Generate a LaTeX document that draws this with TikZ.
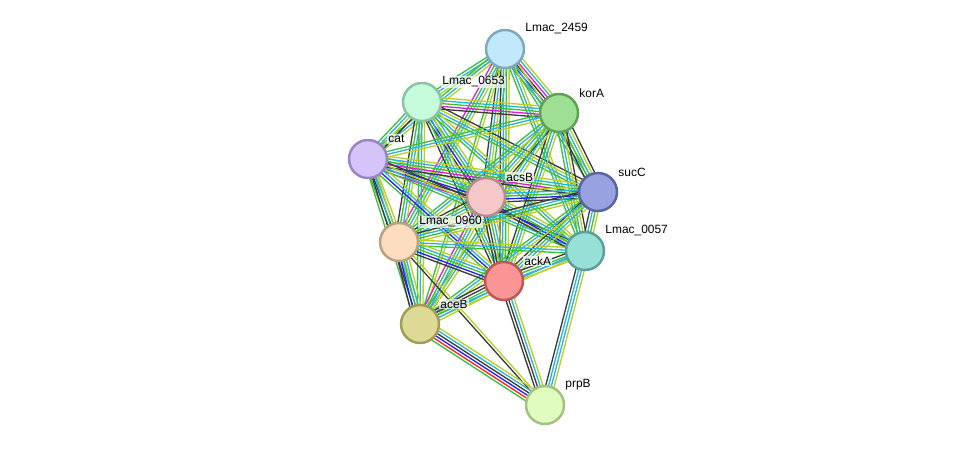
\documentclass[tikz,border=0pt]{standalone}
\usepackage{fontspec}
\setmainfont{Liberation Sans}
\usetikzlibrary{calc}

\pgfdeclarelayer{fond}
\pgfsetlayers{fond,main}

% Couleurs des liens
\definecolor{lvert}{HTML}{3DBE3D}
\definecolor{lrouge}{HTML}{FF2020}
\definecolor{lbleu}{HTML}{2020FF}
\definecolor{lnoir}{HTML}{3A3A3A}
\definecolor{lmagenta}{HTML}{D820D8}
\definecolor{lcyan}{HTML}{2AB4D6}
\definecolor{ljaune}{HTML}{B8CF24}

% Couleurs des noeuds (fond / bord)
\definecolor{c2459}{HTML}{C2E8FB}\definecolor{b2459}{HTML}{7FA7C1}
\definecolor{c0653}{HTML}{C6FBDB}\definecolor{b0653}{HTML}{8BC2A0}
\definecolor{ckorA}{HTML}{9FDE95}\definecolor{bkorA}{HTML}{5FA155}
\definecolor{ccat}{HTML}{D5C4FA}\definecolor{bcat}{HTML}{9A85C3}
\definecolor{cacsB}{HTML}{F6C7C8}\definecolor{bacsB}{HTML}{B98A8B}
\definecolor{csucC}{HTML}{98A2E0}\definecolor{bsucC}{HTML}{5A64A3}
\definecolor{c0960}{HTML}{FDDDBF}\definecolor{b0960}{HTML}{BCA082}
\definecolor{c0057}{HTML}{97E0D8}\definecolor{b0057}{HTML}{5A9F98}
\definecolor{cackA}{HTML}{FB9494}\definecolor{backA}{HTML}{BE5858}
\definecolor{caceB}{HTML}{DDDA96}\definecolor{baceB}{HTML}{A09D58}
\definecolor{cprpB}{HTML}{E0FCBF}\definecolor{bprpB}{HTML}{A4C182}

\tikzset{
  prot/.style 2 args={circle, draw=#2, fill=#1, line width=1.4pt,
    minimum size=0.76cm, inner sep=0pt},
  etiq/.style={anchor=west, font=\fontsize{6.8}{8}\selectfont,
    inner sep=0.6pt, fill=white, fill opacity=0.7, text opacity=1},
  trait/.style={line width=0.75pt},
}

% un lien = faisceau de traits paralleles
\newcommand{\lien}[3]{%
  \foreach \c [count=\i] in {#3} {\global\let\nbtraits\i}%
  \foreach \c [count=\i] in {#3} {%
    \pgfmathsetmacro\dec{(\i-(\nbtraits+1)/2)*1.6}%
    \draw[trait, color=\c] ($(#1.center)!\dec pt!90:(#2.center)$) -- ($(#2.center)!\dec pt!-90:(#1.center)$);
  }%
}

\begin{document}
\begin{tikzpicture}[x=0.02cm, y=-0.02cm]
    \useasboundingbox (0,0) rectangle (976,451);

    % Noeuds
    \node[prot={c2459}{b2459}] (n2459) at (505,49) {};
    \node[prot={c0653}{b0653}] (n0653) at (422,102) {};
    \node[prot={ckorA}{bkorA}] (korA) at (559,113) {};
    \node[prot={ccat}{bcat}] (cat) at (368,159) {};
    \node[prot={cacsB}{bacsB}] (acsB) at (486,197) {};
    \node[prot={csucC}{bsucC}] (sucC) at (598,192) {};
    \node[prot={c0960}{b0960}] (n0960) at (399,242) {};
    \node[prot={c0057}{b0057}] (n0057) at (585,251) {};
    \node[prot={cackA}{backA}] (ackA) at (504,281) {};
    \node[prot={caceB}{baceB}] (aceB) at (420,324) {};
    \node[prot={cprpB}{bprpB}] (prpB) at (545,405) {};

    % Etiquettes
    \node[etiq] (t2459) at ([shift={(19,-20)}]n2459.center) {Lmac\_2459};
    \node[etiq] (t0653) at ([shift={(19,-20)}]n0653.center) {Lmac\_0653};
    \node[etiq] (tkorA) at ([shift={(19,-20)}]korA.center) {korA};
    \node[etiq] (tcat) at ([shift={(19,-20)}]cat.center) {cat};
    \node[etiq] (tacsB) at ([shift={(19,-20)}]acsB.center) {acsB};
    \node[etiq] (tsucC) at ([shift={(19,-20)}]sucC.center) {sucC};
    \node[etiq] (t0960) at ([shift={(19,-20)}]n0960.center) {Lmac\_0960};
    \node[etiq] (t0057) at ([shift={(19,-20)}]n0057.center) {Lmac\_0057};
    \node[etiq] (tackA) at ([shift={(19,-20)}]ackA.center) {ackA};
    \node[etiq] (taceB) at ([shift={(19,-20)}]aceB.center) {aceB};
    \node[etiq] (tprpB) at ([shift={(19,-20)}]prpB.center) {prpB};

    % Liens
    \begin{pgfonlayer}{fond}
    \lien{n2459}{n0653}{lvert,lcyan,ljaune}
    \lien{n2459}{korA}{lvert,lbleu,lnoir,lmagenta,lcyan,ljaune}
    \lien{n2459}{cat}{lvert,lcyan,ljaune}
    \lien{n2459}{acsB}{lnoir,lcyan,ljaune,lvert}
    \lien{n2459}{sucC}{lvert,lcyan,ljaune}
    \lien{n2459}{n0960}{lmagenta,lvert,lcyan,ljaune}
    \lien{n2459}{n0057}{lvert,lcyan,ljaune}
    \lien{n2459}{ackA}{lnoir,lcyan,lvert,ljaune}
    \lien{n2459}{aceB}{lvert,ljaune}
    \lien{n0653}{korA}{lnoir,lmagenta,lvert,lcyan,ljaune}
    \lien{n0653}{cat}{lvert,lcyan,ljaune,lnoir}
    \lien{n0653}{acsB}{lnoir,lbleu,lvert,lcyan,ljaune}
    \lien{n0653}{sucC}{lvert,lcyan,ljaune,lnoir}
    \lien{n0653}{n0960}{lnoir,lvert,lcyan,ljaune}
    \lien{n0653}{n0057}{lvert,lcyan,ljaune}
    \lien{n0653}{ackA}{lnoir,lvert,lcyan,ljaune}
    \lien{n0653}{aceB}{lvert,lcyan,ljaune}
    \lien{korA}{cat}{lvert,lcyan,ljaune}
    \lien{korA}{acsB}{lvert,lcyan,ljaune,lnoir}
    \lien{korA}{sucC}{lnoir,lvert,lcyan,ljaune,lnoir}
    \lien{korA}{n0960}{lvert,lcyan,ljaune}
    \lien{korA}{n0057}{lvert,lcyan,ljaune,lnoir}
    \lien{korA}{ackA}{lnoir,lvert,lcyan,ljaune}
    \lien{korA}{aceB}{lvert,lcyan,ljaune}
    \lien{cat}{acsB}{lmagenta,lnoir,lbleu,lvert,lcyan,ljaune}
    \lien{cat}{sucC}{lnoir,lmagenta,lvert,lcyan,ljaune}
    \lien{cat}{n0960}{lvert,lnoir,lcyan,ljaune}
    \lien{cat}{n0057}{lvert,lcyan,ljaune,lnoir}
    \lien{cat}{ackA}{lvert,lbleu,lcyan,ljaune}
    \lien{cat}{aceB}{lvert,lnoir,lcyan,ljaune}
    \lien{acsB}{sucC}{lnoir,lbleu,lvert,lcyan,ljaune}
    \lien{acsB}{n0960}{lnoir,lvert,lcyan,ljaune}
    \lien{acsB}{n0057}{lnoir,lbleu,lvert,lcyan,ljaune}
    \lien{acsB}{ackA}{lnoir,lnoir,lvert,lcyan,ljaune}
    \lien{acsB}{aceB}{lmagenta,lvert,lcyan,ljaune}
    \lien{sucC}{n0960}{lnoir,lcyan,lvert,ljaune}
    \lien{sucC}{n0057}{lnoir,lcyan,lvert,ljaune}
    \lien{sucC}{ackA}{lnoir,lvert,lcyan,ljaune}
    \lien{sucC}{aceB}{lvert,lcyan,ljaune}
    \lien{n0960}{n0057}{lvert,lcyan,ljaune}
    \lien{n0960}{ackA}{lnoir,lbleu,lvert,lcyan,ljaune}
    \lien{n0960}{aceB}{lnoir,lbleu,lvert,lcyan,ljaune}
    \lien{n0960}{prpB}{lnoir,ljaune}
    \lien{n0057}{ackA}{lnoir,lvert,lcyan,ljaune}
    \lien{n0057}{aceB}{lcyan,ljaune}
    \lien{n0057}{prpB}{lnoir,lcyan,lcyan,ljaune}
    \lien{ackA}{aceB}{lnoir,lnoir,lvert,lcyan,ljaune}
    \lien{ackA}{prpB}{lnoir,lnoir,lcyan,ljaune}
    \lien{aceB}{prpB}{lvert,lrouge,lbleu,lnoir,lcyan,ljaune}
    \end{pgfonlayer}
\end{tikzpicture}
\end{document}
